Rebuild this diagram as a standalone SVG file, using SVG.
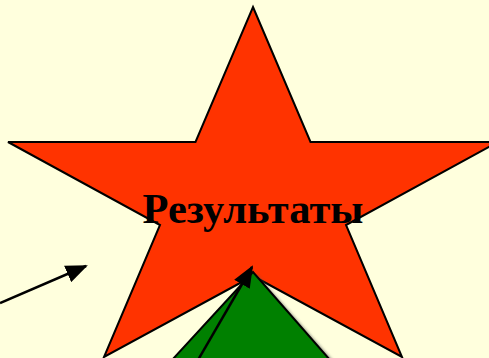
<svg xmlns="http://www.w3.org/2000/svg" width="489" height="358" viewBox="0 0 489 358">
<style>
.outline{stroke:#000;stroke-width:2;stroke-linejoin:miter}
.conn{stroke:#000;stroke-width:2.5;fill:none}
.lbl{font-family:"Liberation Serif","Times New Roman",serif;font-weight:bold;font-size:42.5px;fill:#000}
</style>
<defs>
<marker id="ah" markerUnits="userSpaceOnUse" markerWidth="22" markerHeight="18" refX="20" refY="9" orient="auto">
<path d="M0,0 L22,9 L0,18 Z" fill="#000"/>
</marker>
<filter id="sh" x="-20%" y="-20%" width="140%" height="140%">
<feGaussianBlur stdDeviation="1.5"/>
</filter>
</defs>
<rect width="489" height="358" fill="#FFFFDD"/>
<g id="star">
<polygon class="outline" fill="#FF3300" points="253,7 310.5,142 498,142 346,225 402,357 253,276 104,357 160,225 8,142 195.5,142"/>
<text class="lbl" x="253" y="223" text-anchor="middle">Результаты</text>
</g>
<g id="triangle">
<polygon points="257,275 176,362 334,362" fill="#555" opacity="0.7" filter="url(#sh)"/>
<polygon class="outline" fill="#008000" points="253,272 172,360 330,360"/>
</g>
<g id="connectors">
<line class="conn" x1="0" y1="303" x2="86" y2="266" marker-end="url(#ah)"/>
<line class="conn" x1="198" y1="360" x2="252" y2="267" marker-end="url(#ah)"/>
</g>
</svg>
